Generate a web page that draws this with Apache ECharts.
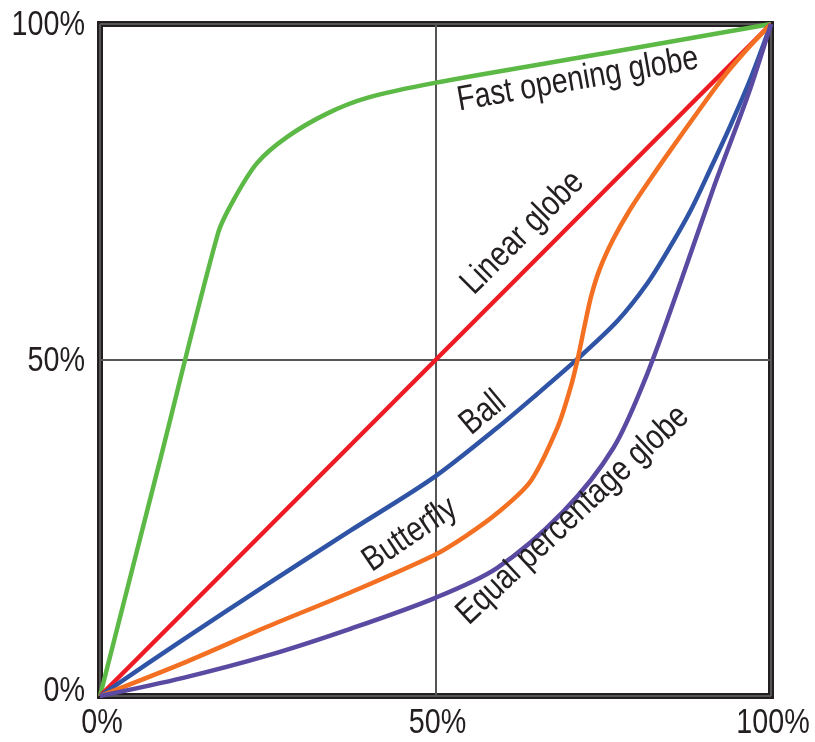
<!DOCTYPE html>
<html>
<head>
<meta charset="utf-8">
<script src="https://cdn.jsdelivr.net/npm/echarts@6/dist/echarts.min.js"></script>
<style>
html,body{margin:0;padding:0;background:#fff;}
#chart{width:815px;height:742px;}
</style>
</head>
<body>
<div id="chart"></div>
<script>
// Tick labels (percent)
var xTicks = [0, 50, 100];
var yTicks = [0, 50, 100];
var tickLabels = ['0%', '50%', '100%'];

// Fast opening globe
var fastX = [0, 8.8, 17.6, 19.9, 23.4, 27.9, 33.9, 39.8, 49.7, 75, 100];
var fastY = [0, 34.5, 68.9, 73.8, 79.3, 83.2, 86.7, 89.0, 91.2, 95.6, 100];

// Linear globe
var linearX = [0, 100];
var linearY = [0, 100];

// Ball
var ballX = [0, 12.4, 24.9, 37.3, 49.7, 59.3, 65, 71.2, 77.1, 81.5, 85, 88, 91, 94, 97, 100];
var ballY = [0, 8.4, 16.6, 24.6, 32.5, 40.0, 44.8, 50.2, 55.8, 61.3, 66.9, 72.2, 78.5, 85.0, 92.0, 100];

// Butterfly
var butterflyX = [0, 12.4, 24.9, 37.3, 49.7, 54.5, 59.3, 64.2, 68.2, 70.1, 71.2, 72.2, 73.2, 74.5, 76.5, 79.0, 82.0, 85, 89, 93, 96.5, 100];
var butterflyY = [0, 4.9, 10.3, 15.4, 20.9, 23.8, 27.3, 32.0, 40.0, 45.8, 50.2, 55.0, 59.5, 63.6, 68.0, 72.4, 76.9, 81.2, 86.8, 92.2, 96.3, 100];

// Equal percentage globe
var equalX = [0, 12.4, 24.9, 37.3, 49.7, 59.1, 69.0, 76.5, 81.5, 86.6, 91.5, 96.6, 100];
var equalY = [0, 2.7, 6.0, 10.0, 14.5, 19.0, 27.4, 36.9, 47.8, 61.8, 75.8, 89.5, 100];

var seriesNames = ['Fast opening globe', 'Linear globe', 'Ball', 'Butterfly', 'Equal percentage globe'];

// Curve annotations: text, anchor in data units, angle in degrees
var annotations = [
  { text: 'Fast opening globe', at: [71.2, 91.7], angle: 10 },
  { text: 'Linear globe', at: [63.0, 68.9], angle: 45 },
  { text: 'Ball', at: [57.1, 42.1], angle: 40 },
  { text: 'Butterfly', at: [46.2, 24.0], angle: 34 },
  { text: 'Equal percentage globe', at: [70.5, 26.9], angle: 43 }
];

var FONT = "'Liberation Sans', Arial, sans-serif";
var NARROW = 0.82;
var TEXT_COLOR = '#231f20';

function pairs(xs, ys) {
  return xs.map(function (x, i) { return [x, ys[i]]; });
}

var colors = ['#5cb946', '#ed1c24', '#2f54a5', '#f36f21', '#5b4aa2'];
var seriesData = [
  pairs(fastX, fastY),
  pairs(linearX, linearY),
  pairs(ballX, ballY),
  pairs(butterflyX, butterflyY),
  pairs(equalX, equalY)
];

var chart = echarts.init(document.getElementById('chart'), null, { renderer: 'canvas' });

var option = {
  animation: false,
  backgroundColor: '#ffffff',
  grid: {
    left: 100, top: 24, width: 671, height: 672,
    show: true,
    borderColor: '#231f20',
    borderWidth: 6,
    backgroundColor: 'transparent',
    containLabel: false,
    outerBoundsMode: 'none'
  },
  xAxis: {
    type: 'value',
    min: xTicks[0], max: xTicks[xTicks.length - 1], interval: xTicks[1] - xTicks[0],
    axisLine: { show: false },
    axisTick: { show: false },
    splitLine: { show: true, lineStyle: { color: '#555555', width: 2 } },
    axisLabel: { show: false }
  },
  yAxis: {
    type: 'value',
    min: yTicks[0], max: yTicks[yTicks.length - 1], interval: yTicks[1] - yTicks[0],
    axisLine: { show: false },
    axisTick: { show: false },
    splitLine: { show: true, lineStyle: { color: '#555555', width: 2 } },
    axisLabel: { show: false }
  },
  series: seriesData.map(function (d, i) {
    return {
      name: seriesNames[i],
      type: 'line',
      data: d,
      showSymbol: false,
      smooth: 0.3,
      clip: false,
      z: 3,
      lineStyle: { color: colors[i], width: 4.5 }
    };
  })
};

chart.setOption(option);

var graphics = [];
// Axis tick labels, placed through the axes' scales (condensed look via scaleX)
xTicks.forEach(function (v, i) {
  var p = chart.convertToPixel({ xAxisIndex: 0 }, v);
  var base = chart.convertToPixel({ yAxisIndex: 0 }, yTicks[0]);
  graphics.push({
    type: 'text', x: p + 2, y: base + 27, scaleX: NARROW, z: 10,
    style: { text: tickLabels[i], font: '35px ' + FONT, fill: TEXT_COLOR, align: 'center', verticalAlign: 'middle' }
  });
});
yTicks.forEach(function (v, i) {
  var p = chart.convertToPixel({ yAxisIndex: 0 }, v);
  var left = chart.convertToPixel({ xAxisIndex: 0 }, xTicks[0]);
  var dy = i === 0 ? -5 : 1;
  graphics.push({
    type: 'text', x: left - 15, y: p + dy, scaleX: NARROW, z: 10,
    style: { text: tickLabels[i], font: '35px ' + FONT, fill: TEXT_COLOR, align: 'right', verticalAlign: 'middle' }
  });
});
annotations.forEach(function (a) {
  var p = chart.convertToPixel({ gridIndex: 0 }, a.at);
  graphics.push({
    type: 'text',
    x: p[0], y: p[1],
    rotation: a.angle * Math.PI / 180,
    scaleX: NARROW,
    z: 10,
    style: {
      text: a.text,
      font: '35px ' + FONT,
      fill: TEXT_COLOR,
      align: 'center',
      verticalAlign: 'middle'
    }
  });
});
chart.setOption({ graphic: graphics });
</script>
</body>
</html>
